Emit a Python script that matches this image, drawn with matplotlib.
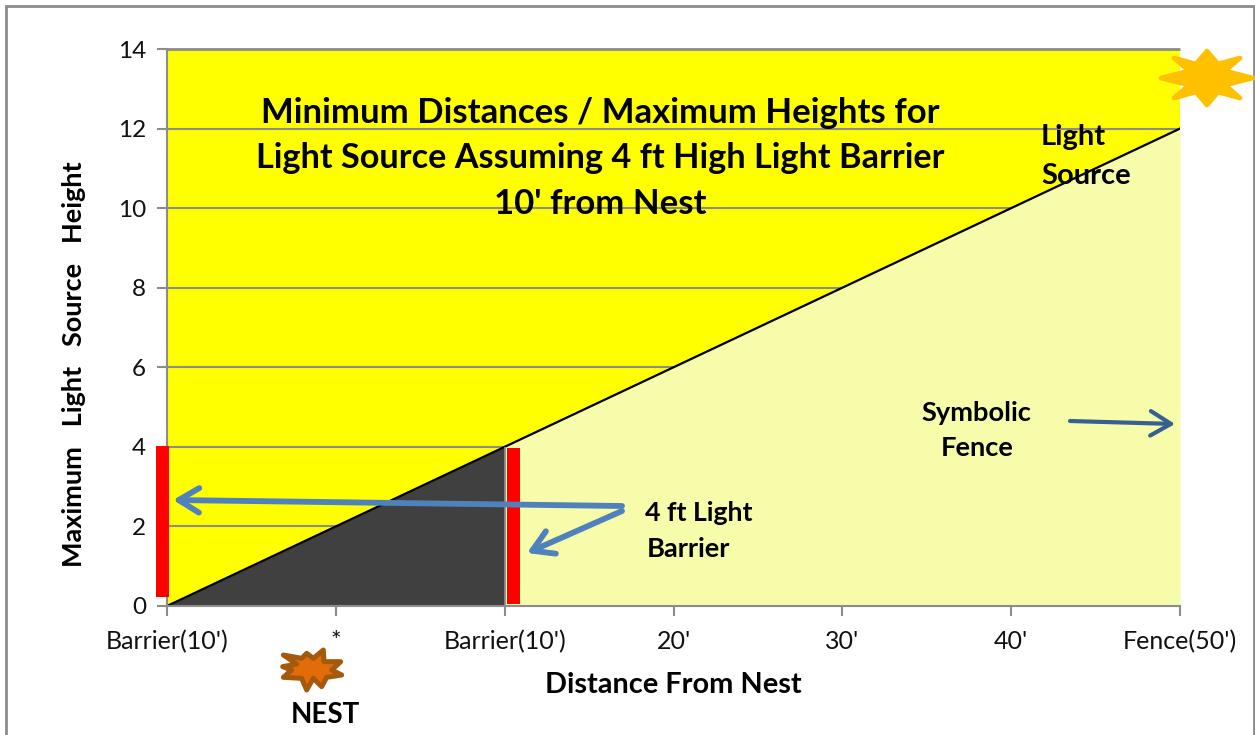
import matplotlib
matplotlib.use("Agg")
import matplotlib.pyplot as plt
from matplotlib.patches import Polygon, Rectangle, FancyArrowPatch
import numpy as np

plt.rcParams['font.family'] = ['Lato', 'DejaVu Sans']

categories = ["Barrier(10')", "*", "Barrier(10')", "20'", "30'", "40'", "Fence(50')"]
light_height = [0, 2, 4, 6, 8, 10, 12]
shadow_height = [0, 2, 4]
y_ticks = [0, 2, 4, 6, 8, 10, 12, 14]
barrier_height = 4
GRAY = '#8c8c8c'

W, H = 1255, 735
fig = plt.figure(figsize=(W/100, H/100), dpi=100)
px = lambda x, y: (x / W, 1 - y / H)

fig.add_artist(Rectangle(px(6, 800), 1248/W, 794/H, transform=fig.transFigure,
                         fill=False, ec=GRAY, lw=2))

ax = fig.add_axes([167/W, 1 - 606/H, (1180 - 167)/W, (606 - 49)/H])
x = np.arange(len(categories))
ax.set_facecolor('#ffff00')
ax.set_xlim(0, 6)
ax.set_ylim(0, 14)
ax.set_yticks(y_ticks)
ax.set_xticks(x)
ax.set_xticklabels(categories)
ax.grid(axis='y', color=GRAY, lw=1.5, zorder=1)
ax.set_axisbelow(True)
ax.fill_between(x, 0, light_height, color='#f7fcab', lw=0, zorder=2)
ax.fill_between(x[:len(shadow_height)], 0, shadow_height, color='#404040', lw=0, zorder=3)
ax.plot(x, light_height, color='black', lw=1.6, zorder=4, clip_on=True)
ax.vlines(x[2], 0, barrier_height, color=GRAY, lw=1.2, zorder=4)
for s in ['top', 'right']:
    ax.spines[s].set_visible(False)
ax.plot([0, 6], [14, 14], color=GRAY, lw=2, zorder=5, clip_on=False, solid_capstyle='butt')
for s in ['left', 'bottom']:
    ax.spines[s].set_color(GRAY)
    ax.spines[s].set_linewidth(1.5)
    ax.spines[s].set_zorder(6)
ax.tick_params(axis='both', color=GRAY, width=1.5, length=7, labelcolor='#111111')
ax.tick_params(axis='x', pad=10, labelsize=18)
ax.tick_params(axis='y', pad=8, labelsize=17.5)

def text(xp, yp, s, size=18.5, **kw):
    fig.text(*px(xp, yp), s, fontsize=size, fontweight='bold', ha='center', va='center', color='black', **kw)

text(600, 113, "Minimum Distances / Maximum Heights for", 25)
text(600, 158, "Light Source Assuming 4 ft High Light Barrier", 24.7)
text(600, 204, "10' from Nest", 25)
text(1073, 137, "Light", 21)
text(1086, 176, "Source", 21)
text(976, 413, "Symbolic", 19.6)
text(977, 448, "Fence", 19.6)
text(699, 513, "4 ft Light", 19.2)
text(688, 549, "Barrier", 19.6)
text(673, 685, "Distance From Nest", 20.8)
text(325, 715, "NEST", 20)
text(74, 364, "Maximum   Light   Source   Height", 19.5, rotation=90)

def poly(pts, **kw):
    fig.add_artist(Polygon([px(a, b) for a, b in pts], closed=True,
                           transform=fig.transFigure, **kw))

for (x0, x1, y0, y1) in [(156, 169, 446, 597), (507, 520, 448, 604)]:
    poly([(x0, y0), (x1, y0), (x1, y1), (x0, y1)], fc='#ff0000', ec='none', zorder=7)

def arrow(a, b, color, lw):
    fig.add_artist(FancyArrowPatch(px(*a), px(*b), transform=fig.transFigure,
                                   arrowstyle='->,head_length=7,head_width=4.2', color=color, lw=lw,
                                   shrinkA=0, shrinkB=0, mutation_scale=2.1, zorder=8,
                                   capstyle='round', joinstyle='round'))

arrow((622, 506), (173, 500), '#4f81bd', 4.2)
arrow((622, 511), (527, 553), '#4f81bd', 4.2)
arrow((1070, 421), (1175, 424), '#376092', 3)

# sun (8-point star)
cx, cy = 1207, 78
outer = [(46, 0), (33, 20), (0, 27), (-33, 20), (-46, 0), (-33, -20), (0, -27), (33, -20)]
inner = [(18, 7), (11, 14), (-11, 14), (-18, 7), (-18, -7), (-11, -14), (11, -14), (18, -7)]
star = []
for o, i in zip(outer, inner):
    star += [(cx + o[0], cy + o[1]), (cx + i[0], cy + i[1])]
poly(star, fc='#ffc000', ec='#ffc000', lw=3.4, joinstyle='round', zorder=9)

# nest burst
z = [(550, 195), (605, 205), (620, 190), (640, 205), (670, 180), (672, 215), (722, 215),
     (695, 240), (725, 255), (680, 262), (665, 290), (640, 265), (620, 300), (605, 265),
     (550, 262), (575, 240), (548, 230), (590, 222)]
poly([(100 + a/3, 590 + b/3) for a, b in z], fc='#e36c0a', ec='#a5590d', lw=3.6, joinstyle='round', zorder=9)

fig.savefig('out.png', dpi=100)
